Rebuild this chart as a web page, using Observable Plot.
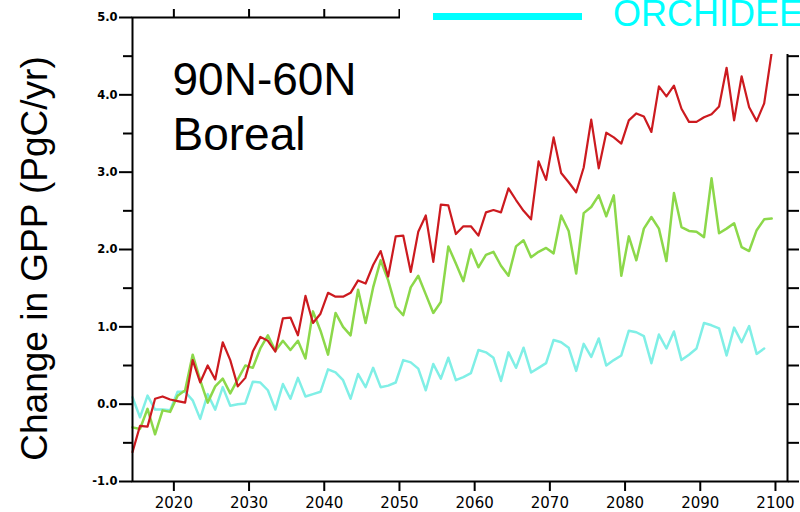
<!DOCTYPE html>
<html><head><meta charset="utf-8">
<script src="https://cdn.jsdelivr.net/npm/d3@7"></script>
<script src="https://cdn.jsdelivr.net/npm/@observablehq/plot@0.6"></script>
<style>
body{margin:0;background:#fff;overflow:hidden}
#wrap{position:relative;width:800px;height:512px;overflow:hidden}
#legend{position:absolute;left:400px;top:0;width:400px;height:54px;background:#fff;overflow:hidden}
#legend .swatch{position:absolute;left:33px;top:13px;width:149px;height:7px;background:#00ffff}
#legend .lab{position:absolute;left:213px;top:-6px;font:36px "Liberation Sans",Arial,sans-serif;color:#00ffff;white-space:nowrap;line-height:40px}
</style></head><body><div id="wrap"></div>
<script>
// Annual values, first point at 2014.5
const years = d3.range(2014.5, 2100, 1);
const seriesRed = [-0.62,-0.28,-0.29,0.07,0.10,0.06,0.04,0.02,0.57,0.28,0.50,0.32,0.80,0.57,0.23,0.34,0.68,0.87,0.82,0.68,1.11,1.12,0.89,1.40,1.05,1.17,1.44,1.39,1.39,1.44,1.60,1.56,1.80,1.98,1.65,2.17,2.18,1.71,2.23,2.44,1.84,2.58,2.57,2.20,2.30,2.30,2.18,2.48,2.51,2.48,2.79,2.64,2.50,2.39,3.14,2.90,3.45,2.99,2.87,2.74,3.06,3.68,3.05,3.51,3.45,3.37,3.67,3.76,3.72,3.52,4.11,3.98,4.12,3.82,3.65,3.65,3.71,3.75,3.85,4.35,3.67,4.24,3.84,3.66,3.89,4.55];
const seriesGreen = [-0.30,-0.32,-0.06,-0.39,-0.08,-0.10,0.11,0.18,0.64,0.31,0.02,0.23,0.33,0.14,0.32,0.50,0.47,0.72,0.89,0.69,0.82,0.70,0.82,0.59,1.20,0.95,0.64,1.18,1.00,0.89,1.48,1.05,1.51,1.86,1.60,1.26,1.15,1.51,1.66,1.42,1.18,1.32,2.04,1.82,1.59,2.00,1.77,1.93,1.97,1.79,1.66,2.04,2.12,1.90,1.97,2.02,1.95,2.44,2.24,1.69,2.47,2.55,2.70,2.43,2.70,1.66,2.17,1.86,2.27,2.42,2.27,1.85,2.73,2.29,2.24,2.23,2.16,2.92,2.21,2.27,2.34,2.03,1.98,2.25,2.39,2.40];
const seriesOrchidee = [0.09,-0.17,0.11,-0.07,-0.07,-0.08,0.16,0.16,0.05,-0.19,0.13,-0.07,0.22,-0.02,0.00,0.01,0.29,0.28,0.18,-0.07,0.26,0.07,0.34,0.10,0.13,0.16,0.45,0.41,0.31,0.07,0.39,0.22,0.47,0.22,0.24,0.28,0.57,0.54,0.46,0.18,0.52,0.33,0.60,0.31,0.35,0.40,0.70,0.67,0.60,0.30,0.67,0.47,0.73,0.41,0.47,0.53,0.83,0.80,0.73,0.43,0.78,0.61,0.85,0.50,0.57,0.63,0.95,0.93,0.88,0.53,0.90,0.72,0.94,0.57,0.64,0.72,1.05,1.02,0.98,0.63,0.99,0.80,1.01,0.65,0.72];

const yMajor = [-1, 0, 1, 2, 3, 4, 5];
const yMinor = [-0.5, 0.5, 1.5, 2.5, 3.5, 4.5];
const yRight = [-1, -0.5, 0, 0.5, 1, 1.5, 2, 2.5, 3, 3.5, 4, 4.5];
const xTicks = [2020, 2030, 2040, 2050, 2060, 2070, 2080, 2090, 2100];
const xTopTicks = [2020, 2030, 2040, 2050];
const yTitle = "Change in GPP (PgC/yr)";
const regionLabel = "90N-60N\nBoreal";
const legendLabel = "ORCHIDEE";

const toRows = (vals) => vals.map((v, i) => ({year: years[i], value: v}));

const chart = Plot.plot({
  width: 800, height: 512,
  marginLeft: 132, marginRight: 13, marginTop: 17, marginBottom: 31,
  style: {background: "#fff", color: "black"},
  x: {domain: [2014.5, 2101.6]},
  y: {domain: [-1, 5]},
  marks: [
    Plot.line(toRows(seriesOrchidee), {x: "year", y: "value", stroke: "#80efe6", strokeWidth: 2.5}),
    Plot.line(toRows(seriesGreen), {x: "year", y: "value", stroke: "#8cd84a", strokeWidth: 2.5}),
    Plot.line(toRows(seriesRed), {x: "year", y: "value", stroke: "#cc1a1f", strokeWidth: 2.2}),
    Plot.frame({stroke: "black", strokeWidth: 2}),
    Plot.axisY({anchor: "left", ticks: yMajor, tickSize: 13, tickPadding: 2, strokeWidth: 2,
      tickFormat: d => d.toFixed(1), fontSize: 11.5, fontWeight: "bold", fontFamily: "DejaVu Sans", label: null}),
    Plot.axisY({anchor: "left", ticks: yMinor, tickSize: 9, strokeWidth: 2, tickFormat: () => "", label: null}),
    Plot.axisY({anchor: "right", ticks: yRight, tickSize: 11, strokeWidth: 2, tickFormat: () => "", label: null}),
    Plot.axisX({anchor: "bottom", ticks: xTicks, tickSize: 10, tickPadding: 6, strokeWidth: 2,
      tickFormat: d => String(d), fontSize: 15, fontFamily: "DejaVu Sans", label: null}),
    Plot.axisX({anchor: "top", ticks: xTopTicks, tickSize: 9, strokeWidth: 2, tickFormat: () => "", label: null}),
    Plot.text([yTitle], {text: d => d, frameAnchor: "left", rotate: -90, dx: -97, dy: 9,
      fontSize: 37, fontFamily: "Liberation Sans", textAnchor: "middle", lineAnchor: "middle", fill: "black"}),
    Plot.text([regionLabel], {text: d => d, frameAnchor: "top-left", dx: 40, dy: 38, textAnchor: "start",
      lineAnchor: "top", fontSize: 46, lineHeight: 1.2, fontFamily: "Liberation Sans", fill: "black"})
  ]
});

const wrap = document.getElementById("wrap");
wrap.appendChild(chart);
const legend = document.createElement("div");
legend.id = "legend";
legend.innerHTML = `<div class="swatch"></div><div class="lab"></div>`;
legend.querySelector(".lab").textContent = legendLabel;
wrap.appendChild(legend);
</script>
</body></html>
